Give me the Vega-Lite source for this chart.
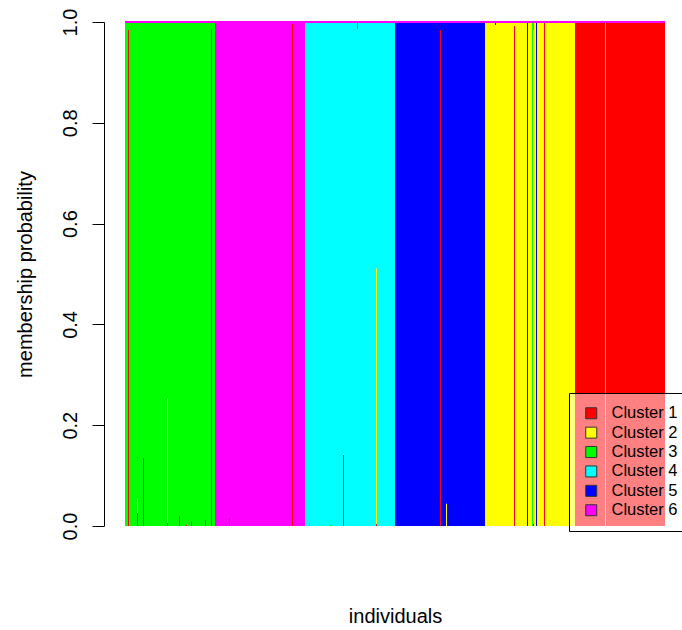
{
"$schema":"https://vega.github.io/schema/vega-lite/v6.json",
"autosize":{"type":"none"},
"width":540,"height":504,
"padding":{"left":125,"top":22,"right":17,"bottom":104},
"background":"white",
"config":{"font":"Liberation Sans","view":{"stroke":null}},
"data":{"values":[
{"i":0,"c":3,"p":1},{"i":1,"c":3,"p":1},{"i":2,"c":3,"p":1},{"i":3,"c":1,"p":0.984},{"i":3,"c":3,"p":0.016},{"i":4,"c":3,"p":1},{"i":5,"c":3,"p":1},{"i":6,"c":3,"p":1},{"i":7,"c":3,"p":1},{"i":8,"c":3,"p":1},{"i":9,"c":3,"p":1},
{"i":10,"c":3,"p":1},{"i":11,"c":3,"p":1},{"i":12,"c":1,"p":0.026},{"i":12,"c":2,"p":0.029},{"i":12,"c":3,"p":0.945},{"i":13,"c":3,"p":1},{"i":14,"c":3,"p":1},{"i":15,"c":3,"p":1},{"i":16,"c":3,"p":1},{"i":17,"c":3,"p":1},{"i":18,"c":1,"p":0.136},{"i":18,"c":3,"p":0.864},{"i":19,"c":3,"p":1},
{"i":20,"c":3,"p":1},{"i":21,"c":3,"p":1},{"i":22,"c":3,"p":1},{"i":23,"c":3,"p":1},{"i":24,"c":3,"p":1},{"i":25,"c":3,"p":1},{"i":26,"c":3,"p":1},{"i":27,"c":3,"p":1},{"i":28,"c":3,"p":1},{"i":29,"c":3,"p":1},
{"i":30,"c":3,"p":1},{"i":31,"c":3,"p":1},{"i":32,"c":3,"p":1},{"i":33,"c":3,"p":1},{"i":34,"c":3,"p":1},{"i":35,"c":3,"p":1},{"i":36,"c":3,"p":1},{"i":37,"c":3,"p":1},{"i":38,"c":3,"p":1},{"i":39,"c":3,"p":1},
{"i":40,"c":3,"p":1},{"i":41,"c":3,"p":1},{"i":42,"c":1,"p":0.006},{"i":42,"c":2,"p":0.247},{"i":42,"c":3,"p":0.747},{"i":43,"c":3,"p":1},{"i":44,"c":3,"p":1},{"i":45,"c":3,"p":1},{"i":46,"c":3,"p":1},{"i":47,"c":3,"p":1},{"i":48,"c":3,"p":1},{"i":49,"c":3,"p":1},
{"i":50,"c":3,"p":1},{"i":51,"c":3,"p":1},{"i":52,"c":3,"p":1},{"i":53,"c":3,"p":1},{"i":54,"c":1,"p":0.02},{"i":54,"c":3,"p":0.98},{"i":55,"c":3,"p":1},{"i":56,"c":3,"p":1},{"i":57,"c":3,"p":1},{"i":58,"c":3,"p":1},{"i":59,"c":3,"p":1},
{"i":60,"c":3,"p":1},{"i":61,"c":1,"p":0.003},{"i":61,"c":3,"p":0.997},{"i":62,"c":3,"p":1},{"i":63,"c":3,"p":1},{"i":64,"c":3,"p":1},{"i":65,"c":3,"p":1},{"i":66,"c":1,"p":0.01},{"i":66,"c":3,"p":0.99},{"i":67,"c":3,"p":1},{"i":68,"c":3,"p":1},{"i":69,"c":3,"p":1},
{"i":70,"c":3,"p":1},{"i":71,"c":3,"p":1},{"i":72,"c":3,"p":1},{"i":73,"c":3,"p":1},{"i":74,"c":3,"p":1},{"i":75,"c":3,"p":1},{"i":76,"c":3,"p":1},{"i":77,"c":3,"p":1},{"i":78,"c":3,"p":1},{"i":79,"c":3,"p":1},
{"i":80,"c":1,"p":0.012},{"i":80,"c":3,"p":0.988},{"i":81,"c":3,"p":1},{"i":82,"c":3,"p":1},{"i":83,"c":3,"p":1},{"i":84,"c":3,"p":1},{"i":85,"c":3,"p":1},{"i":86,"c":1,"p":0.986},{"i":86,"c":3,"p":0.014},{"i":87,"c":3,"p":1},{"i":88,"c":3,"p":1},{"i":89,"c":3,"p":1},
{"i":90,"c":6,"p":1},{"i":91,"c":6,"p":1},{"i":92,"c":6,"p":1},{"i":93,"c":6,"p":1},{"i":94,"c":6,"p":1},{"i":95,"c":6,"p":1},{"i":96,"c":6,"p":1},{"i":97,"c":6,"p":1},{"i":98,"c":6,"p":1},{"i":99,"c":6,"p":1},
{"i":100,"c":1,"p":0.004},{"i":100,"c":6,"p":0.996},{"i":101,"c":6,"p":1},{"i":102,"c":6,"p":1},{"i":103,"c":6,"p":1},{"i":104,"c":1,"p":0.016},{"i":104,"c":6,"p":0.984},{"i":105,"c":6,"p":1},{"i":106,"c":6,"p":1},{"i":107,"c":6,"p":1},{"i":108,"c":6,"p":1},{"i":109,"c":6,"p":1},
{"i":110,"c":6,"p":1},{"i":111,"c":6,"p":1},{"i":112,"c":6,"p":1},{"i":113,"c":6,"p":1},{"i":114,"c":6,"p":1},{"i":115,"c":6,"p":1},{"i":116,"c":6,"p":1},{"i":117,"c":6,"p":1},{"i":118,"c":6,"p":1},{"i":119,"c":6,"p":1},
{"i":120,"c":6,"p":1},{"i":121,"c":6,"p":1},{"i":122,"c":6,"p":1},{"i":123,"c":6,"p":1},{"i":124,"c":6,"p":1},{"i":125,"c":6,"p":1},{"i":126,"c":6,"p":1},{"i":127,"c":6,"p":1},{"i":128,"c":6,"p":1},{"i":129,"c":6,"p":1},
{"i":130,"c":6,"p":1},{"i":131,"c":6,"p":1},{"i":132,"c":6,"p":1},{"i":133,"c":6,"p":1},{"i":134,"c":6,"p":1},{"i":135,"c":6,"p":1},{"i":136,"c":6,"p":1},{"i":137,"c":6,"p":1},{"i":138,"c":6,"p":1},{"i":139,"c":6,"p":1},
{"i":140,"c":6,"p":1},{"i":141,"c":6,"p":1},{"i":142,"c":6,"p":1},{"i":143,"c":6,"p":1},{"i":144,"c":6,"p":1},{"i":145,"c":6,"p":1},{"i":146,"c":6,"p":1},{"i":147,"c":6,"p":1},{"i":148,"c":6,"p":1},{"i":149,"c":6,"p":1},
{"i":150,"c":6,"p":1},{"i":151,"c":6,"p":1},{"i":152,"c":6,"p":1},{"i":153,"c":6,"p":1},{"i":154,"c":6,"p":1},{"i":155,"c":6,"p":1},{"i":156,"c":6,"p":1},{"i":157,"c":6,"p":1},{"i":158,"c":6,"p":1},{"i":159,"c":6,"p":1},
{"i":160,"c":6,"p":1},{"i":161,"c":6,"p":1},{"i":162,"c":6,"p":1},{"i":163,"c":6,"p":1},{"i":164,"c":6,"p":1},{"i":165,"c":6,"p":1},{"i":166,"c":6,"p":1},{"i":167,"c":1,"p":0.996},{"i":167,"c":6,"p":0.004},{"i":168,"c":6,"p":1},{"i":169,"c":6,"p":1},
{"i":170,"c":6,"p":1},{"i":171,"c":6,"p":1},{"i":172,"c":6,"p":1},{"i":173,"c":6,"p":1},{"i":174,"c":6,"p":1},{"i":175,"c":6,"p":1},{"i":176,"c":6,"p":1},{"i":177,"c":6,"p":1},{"i":178,"c":6,"p":1},{"i":179,"c":6,"p":1},
{"i":180,"c":4,"p":1},{"i":181,"c":4,"p":1},{"i":182,"c":4,"p":1},{"i":183,"c":4,"p":1},{"i":184,"c":3,"p":0.006},{"i":184,"c":4,"p":0.994},{"i":185,"c":4,"p":1},{"i":186,"c":4,"p":1},{"i":187,"c":4,"p":1},{"i":188,"c":4,"p":1},{"i":189,"c":4,"p":1},
{"i":190,"c":4,"p":1},{"i":191,"c":4,"p":1},{"i":192,"c":4,"p":1},{"i":193,"c":4,"p":1},{"i":194,"c":4,"p":1},{"i":195,"c":4,"p":1},{"i":196,"c":4,"p":1},{"i":197,"c":4,"p":1},{"i":198,"c":4,"p":1},{"i":199,"c":4,"p":1},
{"i":200,"c":4,"p":1},{"i":201,"c":4,"p":1},{"i":202,"c":4,"p":1},{"i":203,"c":4,"p":1},{"i":204,"c":4,"p":1},{"i":205,"c":3,"p":0.002},{"i":205,"c":4,"p":0.998},{"i":206,"c":4,"p":1},{"i":207,"c":4,"p":1},{"i":208,"c":4,"p":1},{"i":209,"c":4,"p":1},
{"i":210,"c":4,"p":1},{"i":211,"c":4,"p":1},{"i":212,"c":4,"p":1},{"i":213,"c":4,"p":1},{"i":214,"c":4,"p":1},{"i":215,"c":4,"p":1},{"i":216,"c":4,"p":1},{"i":217,"c":4,"p":1},{"i":218,"c":1,"p":0.141},{"i":218,"c":2,"p":0.003},{"i":218,"c":4,"p":0.856},{"i":219,"c":4,"p":1},
{"i":220,"c":4,"p":1},{"i":221,"c":4,"p":1},{"i":222,"c":4,"p":1},{"i":223,"c":4,"p":1},{"i":224,"c":4,"p":1},{"i":225,"c":4,"p":1},{"i":226,"c":4,"p":1},{"i":227,"c":4,"p":1},{"i":228,"c":4,"p":1},{"i":229,"c":4,"p":1},
{"i":230,"c":4,"p":1},{"i":231,"c":4,"p":1},{"i":232,"c":4,"p":0.986},{"i":232,"c":6,"p":0.014},{"i":233,"c":4,"p":1},{"i":234,"c":4,"p":1},{"i":235,"c":4,"p":1},{"i":236,"c":4,"p":1},{"i":237,"c":4,"p":1},{"i":238,"c":4,"p":1},{"i":239,"c":4,"p":1},
{"i":240,"c":4,"p":1},{"i":241,"c":4,"p":1},{"i":242,"c":4,"p":1},{"i":243,"c":4,"p":1},{"i":244,"c":4,"p":1},{"i":245,"c":4,"p":1},{"i":246,"c":4,"p":1},{"i":247,"c":4,"p":1},{"i":248,"c":4,"p":1},{"i":249,"c":4,"p":1},
{"i":250,"c":4,"p":1},{"i":251,"c":1,"p":0.004},{"i":251,"c":2,"p":0.507},{"i":251,"c":4,"p":0.489},{"i":252,"c":4,"p":1},{"i":253,"c":4,"p":1},{"i":254,"c":4,"p":1},{"i":255,"c":4,"p":1},{"i":256,"c":4,"p":1},{"i":257,"c":4,"p":1},{"i":258,"c":4,"p":1},{"i":259,"c":4,"p":1},
{"i":260,"c":4,"p":1},{"i":261,"c":4,"p":1},{"i":262,"c":4,"p":1},{"i":263,"c":4,"p":1},{"i":264,"c":4,"p":1},{"i":265,"c":4,"p":1},{"i":266,"c":4,"p":1},{"i":267,"c":4,"p":1},{"i":268,"c":4,"p":1},{"i":269,"c":4,"p":1},
{"i":270,"c":5,"p":1},{"i":271,"c":5,"p":1},{"i":272,"c":5,"p":1},{"i":273,"c":5,"p":1},{"i":274,"c":5,"p":1},{"i":275,"c":5,"p":1},{"i":276,"c":5,"p":1},{"i":277,"c":5,"p":1},{"i":278,"c":5,"p":1},{"i":279,"c":5,"p":1},
{"i":280,"c":5,"p":1},{"i":281,"c":5,"p":1},{"i":282,"c":5,"p":1},{"i":283,"c":5,"p":1},{"i":284,"c":5,"p":1},{"i":285,"c":5,"p":1},{"i":286,"c":5,"p":1},{"i":287,"c":5,"p":1},{"i":288,"c":5,"p":1},{"i":289,"c":5,"p":1},
{"i":290,"c":5,"p":1},{"i":291,"c":5,"p":1},{"i":292,"c":5,"p":1},{"i":293,"c":5,"p":1},{"i":294,"c":5,"p":1},{"i":295,"c":5,"p":1},{"i":296,"c":5,"p":1},{"i":297,"c":5,"p":1},{"i":298,"c":5,"p":1},{"i":299,"c":5,"p":1},
{"i":300,"c":5,"p":1},{"i":301,"c":5,"p":1},{"i":302,"c":5,"p":1},{"i":303,"c":5,"p":1},{"i":304,"c":5,"p":1},{"i":305,"c":5,"p":1},{"i":306,"c":5,"p":1},{"i":307,"c":5,"p":1},{"i":308,"c":5,"p":1},{"i":309,"c":5,"p":1},
{"i":310,"c":5,"p":1},{"i":311,"c":5,"p":1},{"i":312,"c":5,"p":1},{"i":313,"c":5,"p":1},{"i":314,"c":5,"p":1},{"i":315,"c":1,"p":0.984},{"i":315,"c":5,"p":0.016},{"i":316,"c":5,"p":1},{"i":317,"c":5,"p":1},{"i":318,"c":5,"p":1},{"i":319,"c":5,"p":1},
{"i":320,"c":5,"p":1},{"i":321,"c":2,"p":0.044},{"i":321,"c":5,"p":0.956},{"i":322,"c":5,"p":1},{"i":323,"c":5,"p":1},{"i":324,"c":5,"p":1},{"i":325,"c":5,"p":1},{"i":326,"c":5,"p":1},{"i":327,"c":5,"p":1},{"i":328,"c":5,"p":1},{"i":329,"c":5,"p":1},
{"i":330,"c":5,"p":1},{"i":331,"c":5,"p":1},{"i":332,"c":5,"p":1},{"i":333,"c":5,"p":1},{"i":334,"c":5,"p":1},{"i":335,"c":5,"p":1},{"i":336,"c":5,"p":1},{"i":337,"c":5,"p":1},{"i":338,"c":5,"p":1},{"i":339,"c":5,"p":1},
{"i":340,"c":5,"p":1},{"i":341,"c":5,"p":1},{"i":342,"c":5,"p":1},{"i":343,"c":5,"p":1},{"i":344,"c":5,"p":1},{"i":345,"c":5,"p":1},{"i":346,"c":5,"p":1},{"i":347,"c":5,"p":1},{"i":348,"c":5,"p":1},{"i":349,"c":5,"p":1},
{"i":350,"c":5,"p":1},{"i":351,"c":5,"p":1},{"i":352,"c":5,"p":1},{"i":353,"c":5,"p":1},{"i":354,"c":5,"p":1},{"i":355,"c":5,"p":1},{"i":356,"c":5,"p":1},{"i":357,"c":5,"p":1},{"i":358,"c":5,"p":1},{"i":359,"c":5,"p":1},
{"i":360,"c":2,"p":1},{"i":361,"c":2,"p":1},{"i":362,"c":2,"p":1},{"i":363,"c":2,"p":1},{"i":364,"c":2,"p":1},{"i":365,"c":2,"p":1},{"i":366,"c":2,"p":1},{"i":367,"c":2,"p":1},{"i":368,"c":2,"p":1},{"i":369,"c":2,"p":1},
{"i":370,"c":2,"p":0.994},{"i":370,"c":5,"p":0.006},{"i":371,"c":2,"p":1},{"i":372,"c":2,"p":1},{"i":373,"c":2,"p":1},{"i":374,"c":2,"p":1},{"i":375,"c":2,"p":1},{"i":376,"c":2,"p":1},{"i":377,"c":2,"p":1},{"i":378,"c":2,"p":1},{"i":379,"c":2,"p":1},
{"i":380,"c":2,"p":1},{"i":381,"c":2,"p":1},{"i":382,"c":2,"p":1},{"i":383,"c":2,"p":1},{"i":384,"c":2,"p":1},{"i":385,"c":2,"p":1},{"i":386,"c":2,"p":1},{"i":387,"c":2,"p":1},{"i":388,"c":2,"p":1},{"i":389,"c":1,"p":0.992},{"i":389,"c":2,"p":0.008},
{"i":390,"c":2,"p":1},{"i":391,"c":2,"p":1},{"i":392,"c":2,"p":1},{"i":393,"c":2,"p":1},{"i":394,"c":2,"p":1},{"i":395,"c":2,"p":1},{"i":396,"c":2,"p":1},{"i":397,"c":2,"p":1},{"i":398,"c":2,"p":1},{"i":399,"c":2,"p":1},
{"i":400,"c":2,"p":1},{"i":401,"c":2,"p":1},{"i":402,"c":5,"p":1},{"i":403,"c":2,"p":1},{"i":404,"c":2,"p":1},{"i":405,"c":2,"p":1},{"i":406,"c":2,"p":1},{"i":407,"c":3,"p":1},{"i":408,"c":1,"p":0.004},{"i":408,"c":2,"p":0.98},{"i":408,"c":3,"p":0.016},{"i":409,"c":2,"p":1},
{"i":410,"c":2,"p":1},{"i":411,"c":5,"p":1},{"i":412,"c":2,"p":1},{"i":413,"c":2,"p":1},{"i":414,"c":2,"p":1},{"i":415,"c":2,"p":1},{"i":416,"c":2,"p":1},{"i":417,"c":2,"p":1},{"i":418,"c":2,"p":1},{"i":419,"c":1,"p":0.998},{"i":419,"c":2,"p":0.002},
{"i":420,"c":2,"p":1},{"i":421,"c":2,"p":1},{"i":422,"c":2,"p":1},{"i":423,"c":2,"p":1},{"i":424,"c":2,"p":1},{"i":425,"c":2,"p":1},{"i":426,"c":2,"p":1},{"i":427,"c":2,"p":1},{"i":428,"c":2,"p":1},{"i":429,"c":2,"p":1},
{"i":430,"c":2,"p":1},{"i":431,"c":2,"p":1},{"i":432,"c":2,"p":1},{"i":433,"c":2,"p":1},{"i":434,"c":2,"p":1},{"i":435,"c":2,"p":1},{"i":436,"c":2,"p":1},{"i":437,"c":2,"p":1},{"i":438,"c":2,"p":1},{"i":439,"c":2,"p":1},
{"i":440,"c":2,"p":1},{"i":441,"c":2,"p":1},{"i":442,"c":2,"p":1},{"i":443,"c":2,"p":1},{"i":444,"c":2,"p":1},{"i":445,"c":2,"p":1},{"i":446,"c":2,"p":1},{"i":447,"c":2,"p":1},{"i":448,"c":2,"p":1},{"i":449,"c":2,"p":1},
{"i":450,"c":1,"p":1},{"i":451,"c":1,"p":1},{"i":452,"c":1,"p":1},{"i":453,"c":1,"p":1},{"i":454,"c":1,"p":1},{"i":455,"c":1,"p":1},{"i":456,"c":1,"p":1},{"i":457,"c":1,"p":1},{"i":458,"c":1,"p":1},{"i":459,"c":1,"p":1},
{"i":460,"c":1,"p":1},{"i":461,"c":1,"p":1},{"i":462,"c":1,"p":1},{"i":463,"c":1,"p":1},{"i":464,"c":1,"p":1},{"i":465,"c":1,"p":1},{"i":466,"c":1,"p":1},{"i":467,"c":1,"p":1},{"i":468,"c":1,"p":1},{"i":469,"c":1,"p":1},
{"i":470,"c":1,"p":1},{"i":471,"c":1,"p":1},{"i":472,"c":1,"p":1},{"i":473,"c":1,"p":1},{"i":474,"c":1,"p":1},{"i":475,"c":1,"p":1},{"i":476,"c":1,"p":1},{"i":477,"c":1,"p":1},{"i":478,"c":1,"p":1},{"i":479,"c":1,"p":1},
{"i":480,"c":4,"p":1},{"i":481,"c":1,"p":1},{"i":482,"c":1,"p":1},{"i":483,"c":1,"p":1},{"i":484,"c":1,"p":1},{"i":485,"c":1,"p":1},{"i":486,"c":1,"p":1},{"i":487,"c":1,"p":1},{"i":488,"c":1,"p":1},{"i":489,"c":1,"p":1},
{"i":490,"c":1,"p":1},{"i":491,"c":1,"p":1},{"i":492,"c":1,"p":1},{"i":493,"c":1,"p":1},{"i":494,"c":1,"p":1},{"i":495,"c":1,"p":1},{"i":496,"c":1,"p":1},{"i":497,"c":1,"p":1},{"i":498,"c":1,"p":1},{"i":499,"c":1,"p":1},
{"i":500,"c":1,"p":1},{"i":501,"c":1,"p":1},{"i":502,"c":1,"p":1},{"i":503,"c":1,"p":1},{"i":504,"c":1,"p":1},{"i":505,"c":1,"p":1},{"i":506,"c":1,"p":1},{"i":507,"c":1,"p":1},{"i":508,"c":1,"p":1},{"i":509,"c":1,"p":1},
{"i":510,"c":1,"p":1},{"i":511,"c":1,"p":1},{"i":512,"c":1,"p":1},{"i":513,"c":1,"p":1},{"i":514,"c":1,"p":1},{"i":515,"c":1,"p":1},{"i":516,"c":1,"p":1},{"i":517,"c":1,"p":1},{"i":518,"c":1,"p":1},{"i":519,"c":1,"p":1},
{"i":520,"c":1,"p":1},{"i":521,"c":1,"p":1},{"i":522,"c":1,"p":1},{"i":523,"c":1,"p":1},{"i":524,"c":1,"p":1},{"i":525,"c":1,"p":1},{"i":526,"c":1,"p":1},{"i":527,"c":1,"p":1},{"i":528,"c":1,"p":1},{"i":529,"c":1,"p":1},
{"i":530,"c":1,"p":1},{"i":531,"c":1,"p":1},{"i":532,"c":1,"p":1},{"i":533,"c":1,"p":1},{"i":534,"c":1,"p":1},{"i":535,"c":1,"p":1},{"i":536,"c":1,"p":1},{"i":537,"c":1,"p":1},{"i":538,"c":1,"p":1},{"i":539,"c":1,"p":1}
]},
"layer":[
{"mark":{"type":"bar","strokeWidth":0},
"encoding":{
"x":{"field":"i","type":"ordinal","scale":{"paddingInner":0,"paddingOuter":0},
"axis":{"title":"individuals","labels":false,"ticks":false,"domain":false,"titleFontSize":20,"titleFontWeight":"normal","titleColor":"#000","titlePadding":80}},
"y":{"field":"p","type":"quantitative","stack":"zero","scale":{"domain":[0,1],"nice":false,"zero":true},
"axis":{"title":"membership probability","values":[0,0.2,0.4,0.6,0.8,1],"format":".1f","grid":false,"offset":21,"tickSize":12,"tickColor":"#000","domainColor":"#000","labelAngle":270,"labelAlign":"center","labelBaseline":"alphabetic","labelPadding":16,"labelFontSize":20,"labelColor":"#000","labelFlush":false,"labelOverlap":false,"titleFontSize":20,"titleFontWeight":"normal","titleColor":"#000","titlePadding":25}},
"color":{"field":"c","type":"nominal","scale":{"domain":[1,2,3,4,5,6],"range":["#FF0000","#FFFF00","#00FF00","#00FFFF","#0000FF","#FF00FF"]},
"legend":{"orient":"none","legendX":444,"legendY":371,"title":null,"fillColor":"rgba(255,255,255,0.5)","strokeColor":"#000","padding":12,"symbolType":"square","symbolSize":121,"symbolStrokeColor":"#333","symbolStrokeWidth":1,"symbolOpacity":1,"symbolOffset":2,"labelOffset":12,"labelFontSize":16.5,"labelColor":"#000","rowPadding":2.4,"labelExpr":"'Cluster ' + datum.label + '    '"}},
"order":{"field":"c","type":"quantitative","sort":"ascending"}
}},
{"mark":{"type":"rule","color":"#FF00FF","strokeWidth":1.5},
"encoding":{"y":{"datum":1}}}
]
}
